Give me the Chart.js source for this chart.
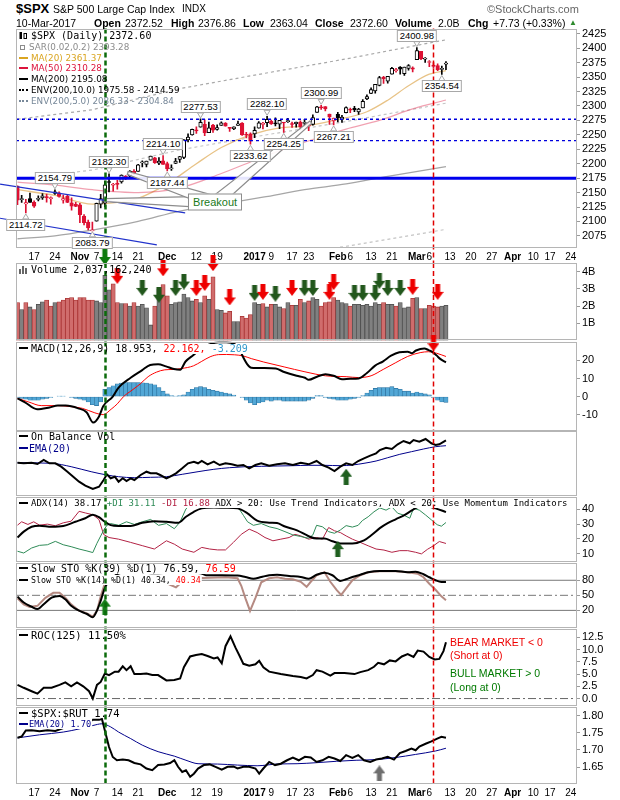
<!DOCTYPE html>
<html>
<head>
<meta charset="utf-8">
<title>$SPX S&amp;P 500 Large Cap Index</title>
<script src="https://cdn.jsdelivr.net/npm/chart.js@4.4.1/dist/chart.umd.min.js"></script>
<style>
html,body{margin:0;padding:0;background:#fff;}
#wrap{position:relative;width:620px;height:800px;overflow:hidden;background:#fff;}
canvas.pc{position:absolute;left:0;z-index:1;}
.t{position:absolute;white-space:nowrap;z-index:4;font-family:'Liberation Sans',Arial,sans-serif;font-size:10.5px;line-height:12px;color:#000;}
.b{font-weight:bold;}
.lg{position:absolute;white-space:nowrap;z-index:4;font-family:'DejaVu Sans Mono',monospace;font-size:10px;line-height:12px;color:#000;}
.ls{font-family:'DejaVu Sans',Verdana,sans-serif;font-size:8.8px;}
.ic{display:inline-block;width:9px;height:2px;background:currentColor;vertical-align:middle;margin:0 3px 2px 0;}
.dt{display:inline-block;width:9px;height:0;border-top:2px dotted currentColor;vertical-align:middle;margin:0 3px 2px 0;}
.vl{position:absolute;z-index:3;transform:translateX(-50%);font-family:'Liberation Sans',Arial,sans-serif;font-size:9.5px;line-height:10px;padding:0 2px;border:1px solid #a8a8a8;background:#fff;color:#000;white-space:nowrap;}
.bo{position:absolute;z-index:3;transform:translate(-50%,-50%);font-family:'Liberation Sans',Arial,sans-serif;font-size:11px;line-height:13px;padding:1px 4px;border:1px solid #8c8c8c;background:#fff;color:#1a7a1a;white-space:nowrap;}
.note{position:absolute;z-index:4;white-space:nowrap;font-family:'Liberation Sans',Arial,sans-serif;font-size:10.5px;line-height:12px;}
</style>
</head>
<body>
<div id="wrap">
  <div class="t b" style="left:16px;top:1px;font-size:13px;line-height:15px">$SPX</div>
  <div class="t" style="left:53px;top:3px">S&amp;P 500 Large Cap Index</div>
  <div class="t" style="left:182px;top:3px;font-size:10px">INDX</div>
  <div class="t" style="left:487px;top:3px;font-size:11px;color:#666">©StockCharts.com</div>
  <div class="t" style="left:16px;top:17px">10-Mar-2017</div>
  <div class="t b" style="left:94px;top:17px">Open</div>
  <div class="t" style="left:125px;top:17px">2372.52</div>
  <div class="t b" style="left:171px;top:17px">High</div>
  <div class="t" style="left:198px;top:17px">2376.86</div>
  <div class="t b" style="left:243px;top:17px">Low</div>
  <div class="t" style="left:270px;top:17px">2363.04</div>
  <div class="t b" style="left:315px;top:17px">Close</div>
  <div class="t" style="left:350px;top:17px">2372.60</div>
  <div class="t b" style="left:395px;top:17px">Volume</div>
  <div class="t" style="left:438px;top:17px">2.0B</div>
  <div class="t b" style="left:468px;top:17px">Chg</div>
  <div class="t" style="left:493px;top:17px">+7.73 (+0.33%)</div>
  <div class="t" style="left:569px;top:17px;font-size:8px;color:#2e8b2e">▲</div>

  <div class="lg" style="left:19px;top:30px"><svg width="9" height="9" style="vertical-align:-1px;margin-right:3px"><rect x="0.5" y="1" width="2.5" height="7" fill="#000"/><rect x="5" y="2.5" width="2.5" height="5" fill="#fff" stroke="#000" stroke-width="1"/></svg>$SPX (Daily) 2372.60</div>
  <div class="lg ls" style="left:19px;top:41px;color:#8c8c8c"><span style="display:inline-block;width:3px;height:3px;border:1px solid #8c8c8c;margin:0 4px 1px 1px;vertical-align:middle"></span>SAR(0.02,0.2) 2393.28</div>
  <div class="lg ls" style="left:19px;top:52px;color:#daa520"><i class="ic"></i>MA(20) 2361.37</div>
  <div class="lg ls" style="left:19px;top:62px;color:#dc143c"><i class="ic"></i>MA(50) 2310.28</div>
  <div class="lg ls" style="left:19px;top:73px"><i class="ic"></i>MA(200) 2195.08</div>
  <div class="lg ls" style="left:19px;top:84px"><i class="dt"></i>ENV(200,10.0) 1975.58 - 2414.59</div>
  <div class="lg ls" style="left:19px;top:95px;color:#778899"><i class="dt"></i>ENV(200,5.0) 2086.33 - 2304.84</div>

  <div class="lg" id="lgV" style="left:19px;top:264px"><svg width="9" height="9" style="vertical-align:-1px;margin-right:3px"><rect x="0" y="4" width="2" height="5" fill="#666"/><rect x="3" y="1" width="2" height="8" fill="#666"/><rect x="6" y="3" width="2" height="6" fill="#666"/></svg>Volume 2,037,162,240</div>
  <div class="lg" id="lgM" style="left:19px;top:343px"><i class="ic"></i>MACD(12,26,9) 18.953, <span style="color:#ff0000">22.162,</span> <span style="color:#3399cc">-3.209</span></div>
  <div class="lg" id="lgO1" style="left:19px;top:431px"><i class="ic"></i>On Balance Vol</div>
  <div class="lg" id="lgO2" style="left:19px;top:443px;color:#00008b"><i class="ic" style="margin-right:1px"></i>EMA(20)</div>
  <div class="lg" id="lgA" style="left:19px;top:497px;font-size:9px"><i class="ic"></i>ADX(14) 38.17 <span style="color:#2e8b57">+DI 31.11</span> <span style="color:#b22244">-DI 16.88</span> ADX &gt; 20: Use Trend Indicators, ADX &lt; 20: Use Momentum Indicators</div>
  <div class="lg" id="lgS1" style="left:19px;top:563px"><i class="ic"></i>Slow STO %K(39) %D(1) 76.59, <span style="color:#ff0000">76.59</span></div>
  <div class="lg" id="lgS2" style="left:19px;top:574px;font-size:8.3px"><i class="ic"></i>Slow STO %K(14) %D(1) 40.34, <span style="color:#ff0000">40.34</span></div>
  <div class="lg" id="lgR" style="left:19px;top:629px;font-size:10.5px"><i class="ic"></i>ROC(125) 11.50%</div>
  <div class="lg" id="lgU1" style="left:19px;top:707px;font-size:10.5px"><i class="ic"></i>$SPX:$RUT 1.74</div>
  <div class="lg" id="lgU2" style="left:19px;top:718px;font-size:8.6px;color:#00008b"><i class="ic" style="margin-right:1px"></i>EMA(20) 1.70</div>

  <div class="note" style="left:450px;top:636px;color:#ee0000">BEAR MARKET &lt; 0</div>
  <div class="note" style="left:450px;top:649px;color:#ee0000">(Short at 0)</div>
  <div class="note" style="left:450px;top:667px;color:#007a00">BULL MARKET &gt; 0</div>
  <div class="note" style="left:450px;top:681px;color:#007a00">(Long at 0)</div>
</div>

<script>
// ================= DATA =================
const days = ['Oct 11','Oct 12','Oct 13','Oct 14','Oct 17','Oct 18','Oct 19','Oct 20','Oct 21','Oct 24','Oct 25','Oct 26','Oct 27','Oct 28','Oct 31',
'Nov 1','Nov 2','Nov 3','Nov 4','Nov 7','Nov 8','Nov 9','Nov 10','Nov 11','Nov 14','Nov 15','Nov 16','Nov 17','Nov 18','Nov 21','Nov 22','Nov 23','Nov 25','Nov 28','Nov 29','Nov 30',
'Dec 1','Dec 2','Dec 5','Dec 6','Dec 7','Dec 8','Dec 9','Dec 12','Dec 13','Dec 14','Dec 15','Dec 16','Dec 19','Dec 20','Dec 21','Dec 22','Dec 23','Dec 27','Dec 28','Dec 29','Dec 30',
'Jan 3','Jan 4','Jan 5','Jan 6','Jan 9','Jan 10','Jan 11','Jan 12','Jan 13','Jan 17','Jan 18','Jan 19','Jan 20','Jan 23','Jan 24','Jan 25','Jan 26','Jan 27','Jan 30','Jan 31',
'Feb 1','Feb 2','Feb 3','Feb 6','Feb 7','Feb 8','Feb 9','Feb 10','Feb 13','Feb 14','Feb 15','Feb 16','Feb 17','Feb 21','Feb 22','Feb 23','Feb 24','Feb 27','Feb 28',
'Mar 1','Mar 2','Mar 3','Mar 6','Mar 7','Mar 8','Mar 9','Mar 10'];

const priorClose = 2163.66;
const opens = [2161.35,2137.67,2130.26,2139.68,2132.95,2138.31,2140.81,2142.51,2139.43,2148.50,
2149.72,2136.97,2144.06,2132.23,2129.78,2128.68,2109.43,2098.80,2083.79,2100.59,
2129.92,2131.56,2167.49,2162.71,2165.64,2168.29,2177.53,2178.61,2186.85,2186.43,
2201.56,2198.55,2206.27,2210.21,2200.76,2204.97,2200.17,2191.12,2200.65,2207.26,
2210.72,2241.13,2249.73,2258.83,2263.32,2268.35,2253.77,2266.81,2259.24,2266.50,
2270.54,2262.93,2260.25,2266.23,2270.23,2249.50,2251.61,2251.57,2261.60,2268.18,
2271.14,2273.59,2269.72,2268.60,2271.14,2272.74,2269.14,2269.14,2271.90,2269.96,
2267.78,2267.88,2288.88,2298.63,2299.02,2286.01,2274.02,2285.59,2276.69,2288.54,
2294.28,2295.87,2289.55,2296.70,2312.27,2321.72,2326.12,2335.58,2349.64,2343.01,
2354.91,2361.11,2367.50,2355.73,2365.23,2366.08,2380.13,2394.75,2380.92,2375.23,
2370.74,2369.81,2363.49,2372.52];
const highs = [2161.56,2145.36,2138.19,2149.19,2135.61,2144.38,2148.44,2147.18,2142.63,2154.79,
2151.44,2145.73,2147.13,2140.72,2133.25,2131.45,2111.76,2102.56,2099.07,2132.00,
2146.87,2170.10,2182.30,2165.92,2171.36,2180.84,2179.22,2188.06,2189.89,2198.70,
2204.80,2204.72,2213.35,2211.14,2210.46,2214.10,2202.60,2197.95,2209.42,2212.78,
2241.63,2251.69,2259.80,2264.03,2277.53,2276.20,2272.12,2268.05,2267.47,2272.56,
2271.23,2263.18,2263.79,2273.82,2271.31,2254.51,2253.58,2263.88,2272.82,2271.50,
2282.10,2275.49,2279.27,2275.32,2271.78,2278.68,2272.08,2272.01,2274.33,2276.96,
2271.78,2284.63,2299.55,2300.99,2299.02,2286.01,2279.09,2289.14,2283.97,2298.31,
2296.18,2299.40,2295.91,2311.08,2319.23,2331.58,2337.58,2351.30,2351.31,2351.16,
2366.71,2365.13,2368.26,2367.34,2371.54,2367.79,2400.98,2394.75,2383.89,2378.80,
2375.12,2373.09,2369.08,2376.86];
const lows = [2128.84,2132.77,2114.72,2132.98,2124.43,2135.49,2138.15,2133.44,2130.09,2146.91,
2141.93,2131.59,2132.52,2119.36,2125.53,2097.85,2094.00,2085.23,2083.79,2100.59,
2123.56,2125.35,2151.17,2152.49,2156.08,2166.38,2172.20,2176.65,2180.38,2186.43,
2194.51,2194.51,2206.27,2200.36,2198.15,2198.81,2187.44,2188.37,2199.97,2202.21,
2208.93,2237.57,2249.23,2252.37,2263.32,2248.44,2253.77,2254.24,2258.21,2266.14,
2265.15,2256.08,2258.84,2266.15,2249.11,2244.56,2233.62,2245.13,2261.60,2260.45,
2264.06,2268.04,2265.27,2260.83,2254.25,2271.51,2262.81,2263.35,2258.41,2265.01,
2257.02,2266.68,2288.88,2294.08,2291.62,2268.04,2267.21,2272.44,2271.65,2287.88,
2288.57,2290.16,2285.38,2296.61,2311.10,2321.42,2322.17,2334.81,2338.87,2339.58,
2354.91,2358.34,2355.09,2352.87,2361.87,2358.96,2380.13,2380.17,2375.39,2367.98,
2365.51,2361.01,2354.54,2363.04];
const closes = [2136.73,2139.18,2132.55,2132.98,2126.50,2139.60,2144.29,2141.34,2141.16,2151.33,
2143.16,2139.43,2133.04,2126.41,2126.15,2111.72,2097.94,2088.66,2085.18,2131.52,
2139.56,2163.26,2167.48,2164.45,2164.20,2180.39,2176.94,2187.12,2181.90,2198.18,
2202.94,2204.72,2213.35,2201.72,2204.66,2198.81,2191.08,2191.95,2204.71,2212.23,
2241.35,2246.19,2259.53,2256.96,2271.72,2253.28,2262.03,2258.07,2262.53,2270.76,
2265.18,2260.96,2263.79,2268.88,2249.92,2249.26,2238.83,2257.83,2270.75,2269.00,
2276.98,2268.90,2268.90,2275.32,2270.44,2274.64,2267.89,2271.89,2263.69,2271.31,
2265.20,2280.07,2298.37,2296.68,2294.69,2280.90,2278.87,2279.55,2280.85,2297.42,
2292.56,2293.08,2294.67,2307.87,2316.10,2328.25,2337.58,2349.25,2347.22,2351.16,
2365.38,2362.82,2363.81,2367.34,2369.75,2363.64,2395.96,2381.92,2383.12,2375.31,
2368.39,2362.98,2364.87,2372.60];

// moving averages / envelopes at a few dates: [dayIndex, value]
const ma20 = [[0,2155],[9,2145],[18,2130],[24,2133],[29,2140],[36,2165],[43,2200],[49,2228],[56,2250],[63,2262],[69,2265],[76,2275],[84,2290],[89,2310],[94,2335],[99,2355],[103,2361.37]];
const ma50 = [[0,2168],[9,2163],[18,2155],[29,2150],[39,2158],[49,2183],[56,2203],[64,2225],[71,2242],[79,2260],[87,2275],[95,2295],[103,2310.28]];
const ma200 = [[0,2070],[9,2075],[18,2085],[29,2100],[39,2118],[49,2130],[59,2142],[69,2155],[79,2165],[89,2178],[103,2195.08]];
const env10Up = [[0,2277],[18,2293.5],[39,2330],[59,2356],[79,2381.5],[103,2414.59]];
const env5Up = [[0,2173.5],[18,2189],[39,2224],[59,2249],[79,2273],[103,2304.84]];
const env5Lo = [[59,2035],[79,2057],[89,2069],[103,2086.33]];

// drawn annotation levels / trendlines (price units)
const hSolid = [2175];
const hDotted = [2277, 2240];
const trendLines = [[[-4.2,2164.7],[40.3,2114.7]], [[-4.2,2105.5],[33.5,2059.5]]];
const priceLabels = [[2,2114.72,'below'],[9,2154.79,'above'],[18,2083.79,'below'],[22,2182.30,'above'],[35,2214.10,'above'],[36,2187.44,'below'],[44,2277.53,'above'],[56,2233.62,'below'],[60,2282.10,'above'],[64,2254.25,'below'],[73,2300.99,'above'],[76,2267.21,'below'],[96,2400.98,'above'],[102,2354.54,'below']];
const breakoutAt = [47.5, 2133.5];
const breakoutTips = [[21,2137],[26.5,2184],[70.5,2272]];
const eventDays = [[21,'#0b6b0b',2.5],[100,'#e00000',1.5]];

// volume (billions)
const volume = [2.2,1.8,2.2,1.95,1.8,2.1,2.25,2.35,2.0,2.2, 2.25,2.35,2.45,2.5,2.35,2.5,2.5,2.35,2.35,2.3,
2.2,3.8,2.95,3.3,2.2,2.15,2.15,2.0,2.2,2.0, 2.1,1.9,0.9,2.0,3.0,3.25,2.6,2.1,2.2,2.25,
2.7,2.5,2.3,2.4,2.2,2.6,2.4,3.7,1.8,1.75, 1.6,1.7,1.1,1.1,1.4,1.3,1.5,2.2,2.1,2.15,
1.95,2.1,2.1,1.95,1.85,2.2,2.05,2.05,2.4,2.2, 2.3,2.5,2.4,2.0,2.2,2.25,2.5,2.35,2.2,2.15,
2.0,2.1,2.1,2.05,2.1,2.0,2.2,2.1,2.2,2.1, 2.1,2.0,2.2,1.9,1.95,2.45,2.5,1.85,1.85,2.05,
2.0,1.95,2.0,2.04];
const volSignalsRed = [[24,3.76],[35,4.2],[47,4.5],[43,3.06],[45,3.35],[51,2.5],[59,2.83],[66,3.06],[75,2.83],[76,3.4],[95,3.12],[101,2.83]];
const volSignalsGreen = [[30,3.06],[34,2.66],[38,3.06],[40,3.43],[57,2.77],[62,2.72],[69,3.06],[71,3.06],[81,2.77],[83,2.77],[86,2.77],[87,3.47],[89,3.06],[92,3.06]];
const volSignalTop = [[21,4.86]];

// MACD
const macdLine = [[0,-1],[1.7,-3],[4.7,-7],[7.7,-6],[9.7,-5],[11.6,-5],[14.6,-6.5],[16.6,-8.7],[18.2,-14.4],[19.6,-11],[20.6,-5.3],[22.9,0],[24.3,5],[27.2,10.4],[29.9,14.5],[31.9,17.5],[33.8,17.9],[35.7,16.7],[37.6,15.2],[39.1,14.8],[40.4,19.4],[42.3,23],[44.3,27],[46.3,29],[48.3,30],[50.2,30],[52.2,29],[53.2,27],[54.2,22],[55.2,18],[56.2,16],[59.2,15.8],[62.1,15.5],[64.1,13.6],[67.1,11.5],[69.1,10.4],[70,9.3],[72,11],[74,12.4],[76,11.5],[78,9.6],[80,9.8],[82,10],[84,13],[85.9,17],[87.9,19.5],[89.8,22.6],[91.8,24.5],[93.8,24.8],[94.8,24],[95.8,25.5],[97.8,26.6],[98.8,25.7],[99.7,24.7],[100.7,22.8],[101.7,20.7],[103,18.953]];
const macdSignal = [[0,-1],[2.7,-3],[5.7,-5],[9.7,-5],[12.6,-5.5],[15.6,-6.5],[18.6,-9],[20.6,-10],[22.5,-7],[24,-4],[25.5,0],[27.5,3.5],[29.5,7],[31.4,11],[33.4,13.5],[35.4,14.8],[37.4,15],[39.4,15.5],[42.3,17],[44.3,19.5],[46.3,22],[48.3,23.2],[50.2,23.3],[52.2,23.1],[54.2,22.5],[56.2,21],[59.2,19.1],[64.1,16.4],[69.1,13.7],[74,11.5],[79,11],[82,10.5],[85,11.5],[87.9,15],[90.8,18.6],[93.8,22.2],[96.8,24.3],[98.8,24.8],[100.7,24],[103,22.162]];
const macdHist = [-0.5,-1,-1.5,-2,-2,-2,-1.5,-1,-0.5,0, 0.3,0.2,0,-0.5,-1,-1.5,-2,-3,-4.5,-5,
-3,4,5,6,7,7.5,7.8,7.8,7.8,7.8, 7.6,7.5,7,6.5,5,3,1.5,0.5,0.3,0.5,
1,2.5,4,5,5.5,5,4,3.5,3,2.5, 2,1.5,0.8,0,-0.5,-2,-3.5,-4.5,-3.5,-3,
-2,-2.5,-2,-2,-2.5,-2.5,-2.5,-2.5,-2.5,-2.5, -2,-1,0.5,0.5,-0.5,-1,-1.5,-2,-2,-2,
-1.5,-1,-0.5,0.5,2,3.5,4.5,5,5,5, 5.5,4.5,4,3,3,2,2.5,2,1.5,1,
-0.5,-2,-3,-3.2];
const macdSignalMark = [[100,29.5]];

// On Balance Volume (billions, relative)
const obv = [[0,7.3],[1.5,6.7],[3.4,7.3],[4.8,6],[6.3,10],[7.7,6.7],[9.1,6.7],[10.5,3.3],[12,-1.7],[13.4,-6.7],[14.8,-11.7],[16.3,-15.7],[18.1,-19],[19.6,-16.7],[20.7,-10],[21.5,-4.3],[22.4,-8.3],[23.4,-6.7],[24.3,-11.7],[25.3,-8.3],[26.2,-11],[27.2,-8.3],[28.1,-10],[29.6,-5],[31,-1.7],[32,-3.3],[33.4,-3.3],[34.3,-5],[35.8,-8.3],[36.7,-6.7],[38.1,-3.3],[39.6,1.7],[41,6.7],[42.4,8.3],[43.4,6.7],[44.3,9],[45.7,5.7],[47.2,8.3],[48.6,5],[50,6.7],[51.5,5.7],[52.9,4.3],[54.3,5],[55.7,1.7],[57.2,5],[58.6,6.7],[60.5,4.3],[62.4,5.7],[64.3,6.7],[66.2,5],[68.1,7.3],[70,5.7],[71.9,9],[73.3,5],[74.8,2.3],[76.2,-1],[77.6,3.3],[79,6.7],[80.5,5],[81.9,9],[83.3,11.7],[84.8,14.3],[86.2,16.7],[87.1,20],[88.6,22.3],[90,21],[91.4,25.7],[92.8,29],[94.3,26.7],[95.2,30],[96.6,28.3],[98.1,31],[99.5,26.7],[100.5,25],[101.4,25.7],[103,29.7]];
const obvEma = [[0,7.3],[8.2,6.7],[12.9,3.3],[17.7,-1.7],[21.5,-5],[24.3,-6.7],[28.1,-7.7],[32,-7.3],[35.8,-6.7],[39.6,-4.3],[43.4,-1.7],[47.2,0.7],[51,2.3],[54.8,3.3],[58.6,3.7],[62.4,4],[66.2,4.3],[70,4.7],[73.8,4.7],[77.6,4.3],[80.5,5],[83.3,6.7],[86.2,9],[89,12.3],[91.9,15.7],[94.7,18.3],[97.6,21],[100.5,23.3],[103,24.3]];
const obvSignal = [[79,-6.7]];

// ADX
const adx = [[0,20.9],[1.5,24.9],[3.4,28.2],[5.3,28.9],[8.2,28.2],[11,28.7],[13.9,31.6],[16.3,34],[18.1,36.4],[19.6,34.7],[21,31.6],[22.4,29.3],[24.3,28.7],[27.2,28.7],[30,30.9],[32.9,32],[35.8,31.6],[38.6,30.9],[40.5,35],[42.4,38.4],[44.3,40.7],[47.2,41.3],[50,41.1],[52.9,40.7],[55.3,37.3],[57.6,32.4],[60.5,31],[62.4,30.7],[64.3,28.4],[67.2,25.8],[70,21.8],[71.9,20.2],[73.8,20.2],[75.7,18.4],[77.6,16.9],[80.5,16.9],[83.3,19],[85.2,22.8],[87.1,27.3],[89,30.7],[90.9,33.3],[92.8,35.8],[94.7,39.1],[96.6,41.8],[98.6,41.8],[100.5,40.7],[103,38.17]];
const plusDI = [[0,11.6],[1.5,10.4],[3.4,13.8],[5.3,15.6],[7.2,16],[9.1,18.3],[11,16],[12.9,14.7],[14.8,13.1],[16.7,11.8],[18.1,10.7],[19.1,17],[20.7,25.8],[21.5,29.2],[22.4,30.4],[24.3,29.2],[26.2,31.6],[28.1,29.8],[30,31.6],[32,33.2],[33.9,29.2],[35.8,30.4],[37.7,26.9],[39.1,31.6],[40.5,40.4],[42,44],[44.3,46],[47.2,45],[50,46],[52.9,42],[54.3,36],[55.3,31.6],[56.7,29.2],[58.6,30.4],[60.5,28.2],[62.4,27],[64.3,24.9],[66.2,22.7],[68.1,21.6],[70,20.4],[71,22.7],[71.9,29.2],[73.3,28.2],[74.8,24.9],[76.2,23.8],[77.6,26],[79,29],[80.5,28],[81.9,29.2],[82.9,32.4],[84.3,35],[85.7,38.4],[87.1,41],[88.6,39.5],[90,41.7],[91.4,37.4],[92.8,36.2],[94.3,34],[95.2,40.7],[96.6,39.5],[98.1,36.2],[99.5,32.9],[100.9,29.6],[101.9,28.6],[103,31.11]];
const minusDI = [[0,29.3],[1,31.6],[2.5,29.8],[3.9,31.6],[5.3,29.3],[7.2,30],[9.1,28.9],[11,30.9],[12.9,32],[14.8,38.7],[16.3,37.6],[18.1,36.4],[19.6,33.1],[20.7,23],[22,20.9],[24.3,19.8],[27.2,17.6],[30,15.4],[32.9,13.1],[35.8,18.7],[37.7,16.4],[39.6,13.1],[42.4,10.9],[44.3,14.2],[46.2,13.1],[48.1,12.5],[50,12.5],[51.9,17.6],[53.8,23.1],[55.7,26.6],[57.6,24.3],[59.5,20.9],[61.4,18.7],[63.3,19.8],[65.3,20.9],[66.7,23.1],[68.1,22],[70,19.8],[71.9,20.9],[73.3,19.8],[74.8,27.7],[76.2,25.5],[77.6,24.3],[79,22],[80.5,19.8],[82.4,17.6],[84.3,15.3],[86.2,13.1],[88.1,12.4],[90,10.9],[91.9,12],[93.8,12],[95.7,10.9],[97.1,9.8],[98.6,13],[100,15.3],[101.4,18.2],[103,16.88]];
const adxSignal = [[77,13]];

// Slow stochastics
const sto39 = [[0,47.4],[1.5,35.7],[3.4,27.2],[4.8,22.6],[6.3,32.4],[8.2,45.4],[10.1,48.7],[11.5,42],[12.9,29],[14.8,19.4],[16.7,12.8],[18.1,6.3],[19.1,19.4],[20,39],[21,65],[22,78],[25,95],[29,96],[33,94],[37,95],[41,95],[44,94],[45.3,90],[49.1,90],[52.9,89.5],[54.8,86.5],[56.7,83],[58.6,86.5],[60.5,90],[62.4,91],[65.3,88.5],[68.1,86.5],[70,83],[71.9,91],[73.8,95],[75.7,90],[77.6,78.6],[79,82],[80.5,86.5],[82.4,91],[84.3,96],[87.1,98.6],[90.9,98.6],[93.8,96],[95.7,97],[97.6,92],[99,86],[100.5,80],[101.9,76.6],[103,76.59]];
const sto14 = [[0,44],[1.5,32],[2.9,27],[4.8,29],[6.7,45],[8.6,55],[10.1,55],[11.5,45],[12.9,32],[14.8,19.4],[16.7,14],[18.1,7.5],[19.1,19],[20,48],[21,74],[24,80],[28,84],[32,80],[35,78],[36.7,71],[38.1,66],[40,80],[43,84],[46.2,85],[50,86],[52.9,84],[53.8,69],[54.8,44],[55.9,19],[57.2,45],[58.6,76],[60.5,84],[62.4,86],[64.3,83],[66.2,82],[68.1,77],[69.5,67],[70.5,77],[71.9,90],[73.8,96],[75.2,77],[76.7,61],[77.8,51],[79,64],[80.5,80],[82.4,90],[84.3,96],[87.1,98],[90.9,98],[93.8,96],[96.2,93],[97.6,86],[99,73],[100.5,61],[101.9,48],[103,40.34]];
const stoLevelsSolid = [80, 20];
const stoLevelsDash = [50];
const stoSignal = [[21,27.5]];

// Rate of change (%)
const roc = [[0,2.8],[1.5,2.2],[3.4,1.5],[4.8,1.0],[6.3,2.2],[8.2,2.2],[10.1,2.8],[11.5,3.3],[12.9,2.5],[14.3,3.3],[15.8,2.5],[17.2,1.5],[18.1,0],[19.1,2.8],[20,3.4],[21,5.1],[22,4.8],[23.4,5.5],[24.3,5.5],[25.3,6.6],[26.2,5.8],[27.2,6.6],[28.1,5],[29.6,5],[31,5.1],[32.4,4.8],[33.8,4.8],[35.8,3.7],[37.7,3.8],[39.1,4.1],[40,6.4],[41.5,8.6],[42.9,8.9],[44.3,9.1],[45.7,8.7],[47.2,8.2],[48.1,8.4],[49.1,7.2],[50,10.7],[51.2,12.7],[52.4,10.4],[53.4,8.7],[54.3,7.1],[55.7,6.7],[57.2,7.0],[58.1,7.7],[59.1,6.4],[60.5,5.5],[63.3,5],[66.2,4.6],[68.1,4.4],[69.5,4.1],[71,4.8],[71.9,5.8],[73.3,5.5],[75.2,4.7],[76.2,5.2],[78.6,5.2],[81,5],[82.4,5.4],[84.3,5.8],[85.7,6.5],[86.7,7.3],[88.1,7.0],[89.5,7.8],[90.9,7.6],[92.4,8.6],[93.8,9.1],[95.2,8.5],[96.2,9.8],[97.6,9.6],[99,8.5],[100.3,8.0],[101.4,8.1],[102.4,9.7],[103,11.5]];
const rocLevels = [0];

// $SPX:$RUT ratio
const spxRut = [[0,1.7355],[1,1.739],[2,1.7566],[3.4,1.757],[5.3,1.7547],[7.2,1.757],[9.1,1.755],[12,1.768],[15,1.775],[17,1.78],[18.1,1.7875],[19.6,1.7875],[20.3,1.79],[21,1.7566],[22,1.7085],[22.9,1.6795],[23.9,1.67],[25.3,1.672],[26.7,1.67],[28.1,1.662],[29.6,1.658],[31,1.646],[32.4,1.641],[33.8,1.656],[35.3,1.658],[36.7,1.662],[37.7,1.67],[38.6,1.651],[39.6,1.636],[40.5,1.641],[41.5,1.622],[42.4,1.631],[43.4,1.646],[44.8,1.656],[46.2,1.658],[47.6,1.651],[49.1,1.643],[50.5,1.651],[51.9,1.652],[52.9,1.646],[54.3,1.651],[55.7,1.651],[57.2,1.646],[58.1,1.631],[59.1,1.646],[60.5,1.665],[61.9,1.656],[63.3,1.66],[64.8,1.67],[66.2,1.678],[67.6,1.67],[69.1,1.68],[70.5,1.678],[71.9,1.665],[73.3,1.67],[74.8,1.68],[76.2,1.675],[77.6,1.668],[79,1.685],[80.5,1.677],[81.9,1.685],[83.3,1.67],[84.8,1.665],[86.2,1.672],[87.6,1.675],[89,1.68],[90.5,1.672],[91.9,1.691],[93.3,1.697],[94.7,1.704],[95.7,1.699],[96.6,1.71],[98.1,1.718],[99.5,1.725],[100.9,1.733],[101.9,1.738],[103,1.7355]];
const spxRutEma = [[0,1.735],[5.3,1.744],[11,1.752],[14.8,1.761],[18.1,1.771],[20.3,1.776],[22.4,1.767],[24.3,1.752],[27.2,1.733],[30,1.714],[33.8,1.695],[37.7,1.682],[40.5,1.67],[43.4,1.66],[48.1,1.659],[52.9,1.656],[57.6,1.654],[62.4,1.659],[67.2,1.66],[71.9,1.663],[76.7,1.667],[81.4,1.67],[86.2,1.672],[90.9,1.678],[95.7,1.687],[100.5,1.697],[103,1.705]];
const rutSignal = [[87,1.632]];

// axis ticks
const xTickIdx  = [4,9,15,19,24,29,36,43,48,57,61,66,70,77,80,85,90,96,99,104,109,114,119,124,128,133];
const xTickText = ['17','24','Nov','7','14','21','Dec','12','19','2017','9','17','23','Feb','6','13','21','Mar','6','13','20','27','Apr','10','17','24'];
const xTickBold = [15,36,57,77,96,119];
const priceTicks = [2075,2100,2125,2150,2175,2200,2225,2250,2275,2300,2325,2350,2375,2400,2425];
const volTicks = [1,2,3,4];
const macdTicks = [-10,0,10,20];
const adxTicks = [10,20,30,40];
const stoTicks = [20,50,80];
const rocTicks = [0,2.5,5,7.5,10,12.5];
const rutTicks = [1.65,1.70,1.75,1.80];

// ================= RENDERING =================
const X_MIN = -0.36, X_MAX = 134.5;
const TF = "'Liberation Sans', Arial, sans-serif";
const wrapEl = document.getElementById('wrap');
const P = (pairs) => pairs.map(([x, y]) => ({x, y}));
const D = (arr) => arr.map((y, x) => ({x, y}));
const span = (v) => [{x: X_MIN, y: v}, {x: X_MAX, y: v}];

function arrowImg(color, dir) {
  const c = document.createElement('canvas'); c.width = 12; c.height = 16;
  const g = c.getContext('2d'); g.fillStyle = color; g.beginPath();
  if (dir === 'down') { g.moveTo(3.5,0); g.lineTo(8.5,0); g.lineTo(8.5,8); g.lineTo(12,8); g.lineTo(6,16); g.lineTo(0,8); g.lineTo(3.5,8); }
  else { g.moveTo(6,0); g.lineTo(12,8); g.lineTo(8.5,8); g.lineTo(8.5,16); g.lineTo(3.5,16); g.lineTo(3.5,8); g.lineTo(0,8); }
  g.closePath(); g.fill(); return c;
}
const imgRed = arrowImg('#ee0000','down'), imgDkGreen = arrowImg('#22571c','down'), imgGreen = arrowImg('#0c7a0c','down');
const imgUpGreen = arrowImg('#1f5f1f','up'), imgUpGreen2 = arrowImg('#17801a','up'), imgUpGrey = arrowImg('#6e6e6e','up');

function marks(pairs, img) { return {type:'scatter', data:P(pairs), pointStyle:img, pointRadius:6, clip:false, order:-1, isMarker:true}; }
function line(data, color, width, extra) { return Object.assign({type:'line', data, borderColor:color, borderWidth:width, pointRadius:0, fill:false, tension:0, order:5}, extra || {}); }

function coverLegends(chart) {
  const p = chart.canvas.$panel; if (!p.legends || !p.legends.length) return;
  const cr = chart.canvas.getBoundingClientRect(), ctx = chart.ctx;
  ctx.save(); ctx.fillStyle = '#fff';
  p.legends.forEach(id => { const r = document.getElementById(id).getBoundingClientRect();
    ctx.fillRect(r.left - cr.left - 1, r.top - cr.top + 1, r.width + 2, r.height - 2); });
  ctx.restore();
}
function drawVLines(chart, toBottom) {
  const ctx = chart.ctx, xs = chart.scales.x, a = chart.chartArea;
  ctx.save(); ctx.setLineDash([5,3]);
  eventDays.forEach(([i, c, w]) => { const x = Math.round(xs.getPixelForValue(i)) + 0.5;
    ctx.strokeStyle = c; ctx.lineWidth = w; ctx.beginPath(); ctx.moveTo(x, a.top); ctx.lineTo(x, toBottom ? chart.height : a.bottom); ctx.stroke(); });
  ctx.restore();
}
function drawFrame(chart) {
  const ctx = chart.ctx, a = chart.chartArea;
  ctx.save(); ctx.strokeStyle = '#b5b5b5'; ctx.lineWidth = 1;
  ctx.strokeRect(Math.round(a.left) + 0.5, Math.round(a.top) + 0.5, Math.round(a.right - a.left) - 1, Math.round(a.bottom - a.top) - 1);
  ctx.restore();
}
const panelPlugin = {
  id: 'panelDeco',
  beforeDatasetsDraw(chart) { chart.$cov = false; },
  beforeDatasetDraw(chart, args) {
    if (chart.data.datasets[args.index].isMarker && !chart.$cov) { coverLegends(chart); chart.$cov = true; }
  },
  afterDatasetsDraw(chart) {
    if (!chart.$cov) { coverLegends(chart); chart.$cov = true; }
    const p = chart.canvas.$panel;
    if (p.after) p.after(chart);
    drawVLines(chart, p.vToBottom);
  },
  afterDraw(chart) { drawFrame(chart); }
};

function makePanel(cfg) {
  const pt = cfg.padTop || 8, pb = cfg.showX ? 16 : 8;
  const h = (cfg.bottom - cfg.top) + pt + pb;
  const c = document.createElement('canvas');
  c.className = 'pc'; c.width = 620; c.height = h; c.style.width = '620px'; c.style.height = h + 'px'; c.style.top = (cfg.top - pt) + 'px';
  wrapEl.appendChild(c);
  c.$panel = {legends: cfg.legends || [], after: cfg.after, vToBottom: cfg.vToBottom};
  const xScale = {type: 'linear', min: X_MIN, max: X_MAX, display: !!cfg.showX, offset: false,
    grid: {display: false, drawTicks: false}, border: {display: false},
    afterBuildTicks: (a) => { a.ticks = xTickIdx.map(v => ({value: v})); },
    ticks: {autoSkip: false, maxRotation: 0, minRotation: 0, padding: 3, color: '#000',
      callback: (v) => { const k = xTickIdx.indexOf(v); return k >= 0 ? xTickText[k] : ''; },
      font: (ctx) => ({family: TF, size: 10, weight: (ctx.tick && xTickBold.includes(ctx.tick.value)) ? 'bold' : 'normal'})}};
  if (cfg.showX) xScale.afterFit = (a) => { a.height = 16; };
  const chart = new Chart(c, {
    type: 'bar',
    data: {datasets: cfg.datasets},
    options: {
      responsive: false, animation: false, events: [],
      layout: {padding: {left: 16, right: 0, top: pt, bottom: cfg.showX ? 0 : 8}},
      plugins: {legend: {display: false}, tooltip: {enabled: false}},
      scales: {
        x: xScale,
        y: {position: 'right', min: cfg.ymin, max: cfg.ymax,
          afterBuildTicks: (a) => { a.ticks = cfg.yTicks.map(v => ({value: v})); },
          afterFit: (a) => { a.width = 43; },
          grid: {display: cfg.yTicks.length > 0, drawOnChartArea: false, drawTicks: true, tickLength: 3, color: '#9a9a9a'},
          border: {display: false},
          ticks: {display: cfg.yTicks.length > 0, autoSkip: false, padding: 2, color: '#000', font: {family: TF, size: 11}, callback: cfg.fmt || ((v) => v)}}
      }
    },
    plugins: [panelPlugin]
  });
  chart.$top = cfg.top - pt;
  return chart;
}

// ---------- price panel ----------
const candleColor = closes.map((c, i) => c >= (i ? closes[i - 1] : priorClose) ? '#000000' : '#dd1133');
const bodyFill = closes.map((c, i) => c >= opens[i] ? '#ffffff' : candleColor[i]);

function drawPriceExtras(chart) {
  const ctx = chart.ctx, xs = chart.scales.x, ys = chart.scales.y;
  ctx.save();
  ctx.fillStyle = '#fff'; ctx.strokeStyle = '#a8a8a8'; ctx.lineWidth = 1;
  priceLabels.forEach(([i, v, pos]) => {
    const px = xs.getPixelForValue(i), py = ys.getPixelForValue(v);
    const by = pos === 'above' ? py - 6 : py + 6, tip = pos === 'above' ? py - 1 : py + 1;
    ctx.beginPath(); ctx.moveTo(px - 3, by); ctx.lineTo(px, tip); ctx.lineTo(px + 3, by); ctx.closePath(); ctx.fill(); ctx.stroke();
  });
  const cx = xs.getPixelForValue(breakoutAt[0]), cy = ys.getPixelForValue(breakoutAt[1]);
  ctx.strokeStyle = '#8c8c8c'; ctx.lineWidth = 1.2; ctx.fillStyle = 'rgba(255,255,255,0.9)';
  breakoutTips.forEach(([i, v]) => {
    const tx = xs.getPixelForValue(i), ty = ys.getPixelForValue(v);
    const dx = tx - cx, dy = ty - cy, L = Math.hypot(dx, dy), nx = -dy / L, ny = dx / L;
    ctx.beginPath(); ctx.moveTo(cx + nx * 6, cy + ny * 6); ctx.lineTo(tx + nx * 1.5, ty + ny * 1.5);
    ctx.lineTo(tx - nx * 1.5, ty - ny * 1.5); ctx.lineTo(cx - nx * 6, cy - ny * 6); ctx.closePath(); ctx.fill(); ctx.stroke();
  });
  ctx.restore();
}

const priceChart = makePanel({
  top: 28, bottom: 248, showX: true, ymin: 2054, ymax: 2434, yTicks: priceTicks, vToBottom: true,
  after: drawPriceExtras,
  datasets: [
    line(P(env10Up), '#a9a9a9', 1.2, {borderDash: [3,3], order: 8}),
    line(P(env5Up), '#c4c4c4', 1.2, {borderDash: [3,3], order: 8}),
    line(P(env5Lo), '#c4c4c4', 1.2, {borderDash: [3,3], order: 8}),
    line(P(ma200), '#a6a6a6', 1.3, {cubicInterpolationMode: 'monotone', order: 7}),
    line(P(ma50), 'rgba(220,20,60,0.4)', 1.2, {cubicInterpolationMode: 'monotone', order: 7}),
    line(P(ma20), '#e8c387', 1.3, {cubicInterpolationMode: 'monotone', order: 7}),
    {type: 'bar', data: lows.map((l, i) => ({x: i, y: [l, highs[i]]})), backgroundColor: candleColor, barThickness: 1, grouped: false, order: 3},
    {type: 'bar', data: opens.map((o, i) => ({x: i, y: [o, closes[i]]})), backgroundColor: bodyFill, borderColor: candleColor, borderWidth: 1, borderSkipped: false, barThickness: 3.6, minBarLength: 1, grouped: false, order: 2},
    ...hSolid.map(v => line(span(v), '#0000ee', 3, {order: 0})),
    ...hDotted.map(v => line(span(v), '#0000dd', 1.3, {borderDash: [3,3], order: 0})),
    ...trendLines.map(t => line(P(t), '#2233cc', 1.2, {order: 0, clip: false}))
  ]
});
(function placeLabels(chart) {
  const xs = chart.scales.x, ys = chart.scales.y, t0 = chart.$top;
  priceLabels.forEach(([i, v, pos]) => {
    const d = document.createElement('div'); d.className = 'vl'; d.textContent = v.toFixed(2);
    const px = xs.getPixelForValue(i), py = ys.getPixelForValue(v);
    d.style.left = px + 'px'; d.style.top = (t0 + (pos === 'above' ? py - 6 - 12 : py + 6)) + 'px';
    wrapEl.appendChild(d);
  });
  const b = document.createElement('div'); b.className = 'bo'; b.textContent = 'Breakout';
  b.style.left = xs.getPixelForValue(breakoutAt[0]) + 'px'; b.style.top = (t0 + ys.getPixelForValue(breakoutAt[1])) + 'px';
  wrapEl.appendChild(b);
})(priceChart);

// ---------- volume ----------
const volUp = volume.map((v, i) => closes[i] >= (i ? closes[i - 1] : priorClose));
makePanel({
  top: 263, bottom: 341, padTop: 16, ymin: 0, ymax: 4.51, yTicks: volTicks, fmt: (v) => v + 'B', legends: ['lgV'],
  datasets: [
    {type: 'bar', data: D(volume), backgroundColor: volUp.map(u => u ? '#808080' : '#d06c6c'), borderColor: volUp.map(u => u ? '#4d4d4d' : '#a83232'), borderWidth: 0.8, borderSkipped: false, barThickness: 4.16, grouped: false, order: 3},
    marks(volSignalsRed, imgRed), marks(volSignalsGreen, imgDkGreen), marks(volSignalTop, imgGreen)
  ]
});

// ---------- MACD ----------
makePanel({
  top: 341, bottom: 431, ymin: -18.7, ymax: 30.4, yTicks: macdTicks, legends: ['lgM'],
  datasets: [
    {type: 'bar', data: D(macdHist), backgroundColor: '#52a7d6', borderColor: '#2a6f9c', borderWidth: 0.6, borderSkipped: false, barThickness: 4.16, grouped: false, order: 6},
    line(P(macdSignal), '#ff0000', 1, {cubicInterpolationMode: 'monotone', order: 4}),
    line(P(macdLine), '#000000', 2, {cubicInterpolationMode: 'monotone', order: 3}),
    marks(macdSignalMark, imgRed)
  ]
});

// ---------- OBV ----------
makePanel({
  top: 431, bottom: 496, ymin: -26, ymax: 39, yTicks: [], legends: ['lgO1', 'lgO2'],
  datasets: [
    line(P(obvEma), '#00008b', 1, {cubicInterpolationMode: 'monotone', order: 4}),
    line(P(obv), '#000000', 2, {order: 3}),
    marks(obvSignal, imgUpGreen)
  ]
});

// ---------- ADX ----------
makePanel({
  top: 496, bottom: 562, ymin: 4.7, ymax: 48.7, yTicks: adxTicks, legends: ['lgA'],
  datasets: [
    line(P(plusDI), '#2e8b57', 1, {order: 5}),
    line(P(minusDI), '#b22244', 1, {order: 5}),
    line(P(adx), '#000000', 2, {cubicInterpolationMode: 'monotone', order: 3}),
    marks(adxSignal, imgUpGreen)
  ]
});

// ---------- Slow STO ----------
makePanel({
  top: 562, bottom: 628, ymin: -13.9, ymax: 115.2, yTicks: stoTicks, legends: ['lgS1', 'lgS2'],
  datasets: [
    ...stoLevelsSolid.map(v => line(span(v), '#777777', 1, {order: 9})),
    ...stoLevelsDash.map(v => line(span(v), '#777777', 1, {borderDash: [8,3,2,3], order: 9})),
    line(P(sto14), '#b58a82', 2, {order: 4}),
    line(P(sto39), '#000000', 2, {cubicInterpolationMode: 'monotone', order: 3}),
    marks(stoSignal, imgUpGreen2)
  ]
});

// ---------- ROC ----------
makePanel({
  top: 628, bottom: 706, ymin: -1.4, ymax: 14.3, yTicks: rocTicks, fmt: (v) => v.toFixed(1), legends: ['lgR'],
  datasets: [
    ...rocLevels.map(v => line(span(v), '#666666', 1, {borderDash: [8,3,2,3], order: 9})),
    line(P(roc), '#000000', 2, {order: 3})
  ]
});

// ---------- $SPX:$RUT ----------
makePanel({
  top: 706, bottom: 784, showX: true, ymin: 1.601, ymax: 1.826, yTicks: rutTicks, fmt: (v) => v.toFixed(2), legends: ['lgU1', 'lgU2'],
  datasets: [
    line(P(spxRutEma), '#00008b', 1, {cubicInterpolationMode: 'monotone', order: 4}),
    line(P(spxRut), '#000000', 2, {order: 3}),
    marks(rutSignal, imgUpGrey)
  ]
});
</script>
</body>
</html>
